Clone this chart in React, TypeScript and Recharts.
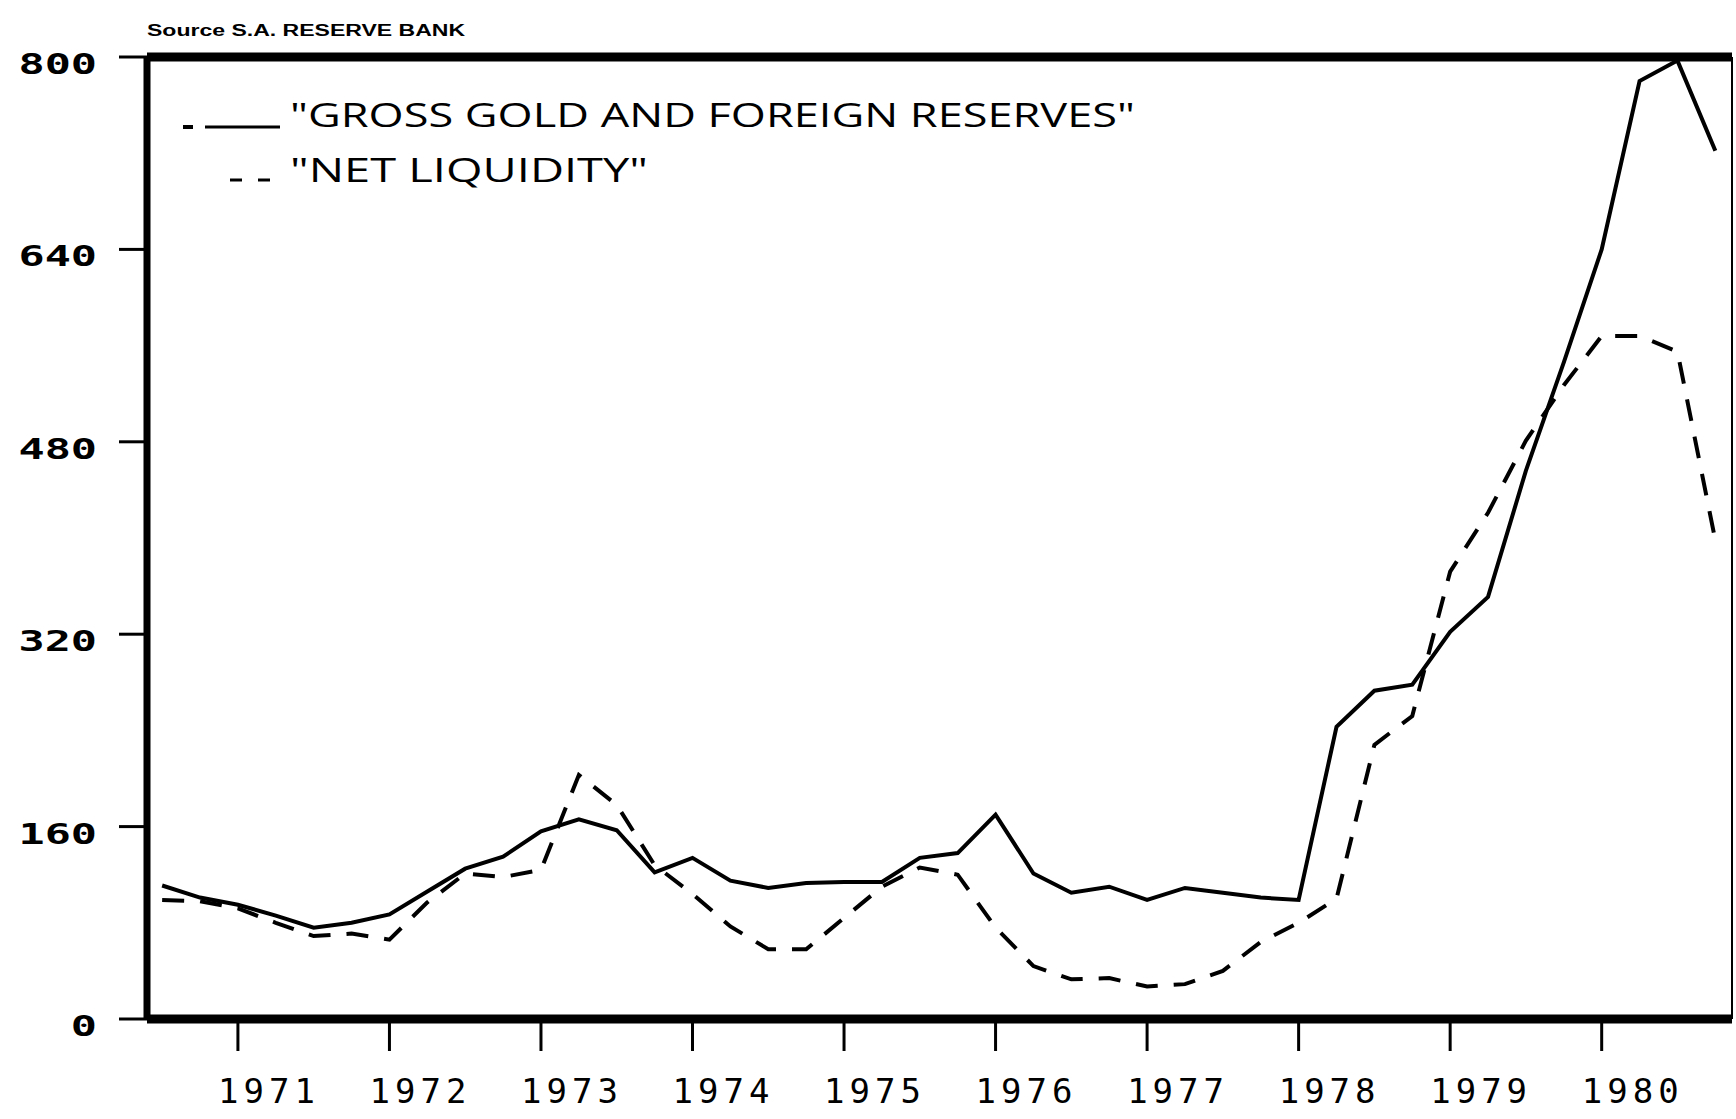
import React from "react";
import { LineChart, Line, XAxis, YAxis, ReferenceLine, Legend } from "recharts";

const quarters = [
  1970.5, 1970.75, 1971.0, 1971.25, 1971.5, 1971.75, 1972.0, 1972.25, 1972.5, 1972.75,
  1973.0, 1973.25, 1973.5, 1973.75, 1974.0, 1974.25, 1974.5, 1974.75, 1975.0, 1975.25,
  1975.5, 1975.75, 1976.0, 1976.25, 1976.5, 1976.75, 1977.0, 1977.25, 1977.5, 1977.75,
  1978.0, 1978.25, 1978.5, 1978.75, 1979.0, 1979.25, 1979.5, 1979.75, 1980.0, 1980.25,
  1980.5, 1980.75,
];

const grossReserves = [
  111, 101, 95, 86, 76, 80, 87, 106, 125, 135,
  156, 166, 157, 122, 134, 115, 109, 113, 114, 114,
  134, 138, 170, 121, 105, 110, 99, 109, 105, 101,
  99, 243, 273, 278, 322, 351, 456, 546, 640, 780,
  797, 722,
];

const netLiquidity = [
  99, 98, 92, 80, 69, 71, 66, 97, 121, 118,
  124, 203, 178, 128, 104, 77, 58, 58, 84, 110,
  126, 120, 76, 44, 33, 34, 27, 29, 40, 64,
  80, 100, 228, 252, 372, 421, 481, 527, 568, 568,
  555, 398,
];

const yearTicks = [1971, 1972, 1973, 1974, 1975, 1976, 1977, 1978, 1979, 1980];
const valueTicks = [0, 160, 320, 480, 640, 800];

const sourceLabel = "Source S.A. RESERVE BANK";
const grossLabel = "\"GROSS GOLD AND FOREIGN RESERVES\"";
const netLabel = "\"NET LIQUIDITY\"";

const data = quarters.map((q, i) => ({ q, gross: grossReserves[i], net: netLiquidity[i] }));

const YTick = (props: any) => {
  const { x, y, payload } = props;
  return (
    <g transform={`translate(${x},${y}) scale(1.5,1)`}>
      <text
        x={0}
        y={17}
        textAnchor="end"
        fontFamily="'DejaVu Sans Mono', monospace"
        fontWeight="bold"
        fontSize={29}
        fill="#000"
      >
        {payload.value}
      </text>
    </g>
  );
};

const XTick = (props: any) => {
  const { x, y, payload } = props;
  return (
    <text
      x={x + 31}
      y={y + 52}
      textAnchor="middle"
      fontFamily="'DejaVu Sans Mono', monospace"
      fontSize={34}
      letterSpacing={5}
      fill="#000"
    >
      {payload.value}
    </text>
  );
};

const LegendContent = () => (
  <svg width={1200} height={200} style={{ display: "block" }}>
    <text
      x={147}
      y={36}
      fontFamily="'Liberation Sans', sans-serif"
      fontWeight="bold"
      fontSize={16}
      textLength={318}
      lengthAdjust="spacingAndGlyphs"
      fill="#000"
    >
      {sourceLabel}
    </text>
    <line x1={183} y1={127} x2={193} y2={127} stroke="#000" strokeWidth={4} />
    <line x1={205} y1={127} x2={280} y2={127} stroke="#000" strokeWidth={3} />
    <text
      x={290}
      y={127}
      fontFamily="'Open Sans', sans-serif"
      fontSize={33}
      textLength={845}
      lengthAdjust="spacingAndGlyphs"
      fill="#000"
    >
      {grossLabel}
    </text>
    <line x1={230} y1={180} x2={242} y2={180} stroke="#000" strokeWidth={3} />
    <line x1={258} y1={180} x2={270} y2={180} stroke="#000" strokeWidth={3} />
    <text
      x={290}
      y={182}
      fontFamily="'Open Sans', sans-serif"
      fontSize={33}
      textLength={358}
      lengthAdjust="spacingAndGlyphs"
      fill="#000"
    >
      {netLabel}
    </text>
  </svg>
);

export default function App() {
  return (
    <div style={{ position: "absolute", left: 0, top: 0, width: 1736, height: 1119, background: "#fff" }}>
      <LineChart
        width={1736}
        height={1119}
        data={data}
        margin={{ top: 57, right: 4, bottom: 0, left: 0 }}
      >
        <XAxis
          dataKey="q"
          type="number"
          domain={[1970.4, 1980.86]}
          ticks={yearTicks}
          allowDataOverflow
          height={100}
          tickSize={32}
          tickMargin={0}
          axisLine={{ stroke: "#000", strokeWidth: 9 }}
          tickLine={{ stroke: "#000", strokeWidth: 3 }}
          tick={<XTick />}
          interval={0}
        />
        <YAxis
          type="number"
          domain={[0, 800]}
          ticks={valueTicks}
          width={147}
          tickSize={28}
          tickMargin={22}
          axisLine={{ stroke: "#000", strokeWidth: 7 }}
          tickLine={{ stroke: "#000", strokeWidth: 3 }}
          tick={<YTick />}
          interval={0}
        />
        <ReferenceLine y={800} stroke="#000" strokeWidth={9} />
        <ReferenceLine x={1980.86} stroke="#000" strokeWidth={2} />
        <Legend
          layout="horizontal"
          verticalAlign="middle"
          align="center"
          wrapperStyle={{ top: 0, left: 0, width: 1200, height: 200 }}
          content={<LegendContent />}
        />
        <Line
          type="linear"
          dataKey="gross"
          stroke="#000"
          strokeWidth={4}
          dot={false}
          isAnimationActive={false}
        />
        <Line
          type="linear"
          dataKey="net"
          stroke="#000"
          strokeWidth={4}
          strokeDasharray="22 16"
          dot={false}
          isAnimationActive={false}
        />
      </LineChart>
    </div>
  );
}
